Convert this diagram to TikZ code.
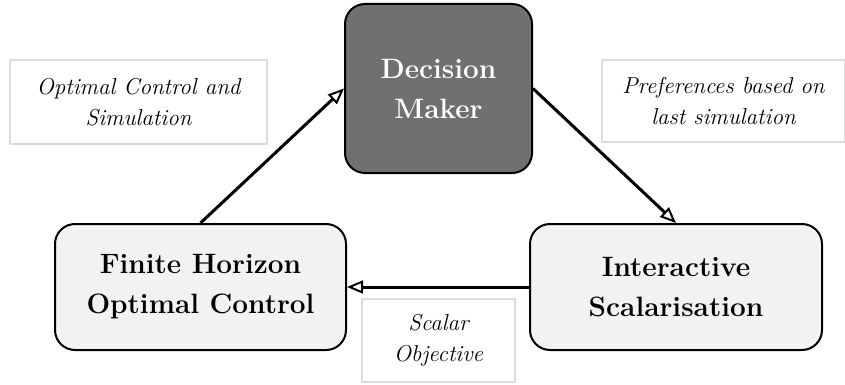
\documentclass[tikz,border=0pt]{standalone}
\usetikzlibrary{arrows.meta}
\definecolor{boxgray}{HTML}{F2F2F2}
\definecolor{dmgray}{HTML}{707070}
\definecolor{notegray}{HTML}{DCDCDC}
\tikzset{
  block/.style={draw=black, line width=2pt, rounded corners=20pt, fill=boxgray,
    align=center, font=\fontsize{28}{40}\selectfont\bfseries, inner sep=0pt},
  note/.style={draw=notegray, line width=1.5pt, align=center,
    font=\fontsize{23}{31}\selectfont\itshape, inner sep=0pt},
  flow/.style={line width=3pt, -{Triangle[open, length=16pt, width=13pt, line width=2pt, fill=white]}}
}
\begin{document}
\begin{tikzpicture}[x=1pt, y=-1pt]
\useasboundingbox (0,0) rectangle (845,385);

\node (dm) at (438.5, 88.5) [block, fill=dmgray, text=white, minimum width=187pt, minimum height=169pt] {Decision\\Maker};
\node (fh) at (200.5, 287) [block, minimum width=291pt, minimum height=126pt] {Finite Horizon\\Optimal Control};
\node (is) at (676, 287) [block, minimum width=292pt, minimum height=126pt] {Interactive\\Scalarisation};

\node (ocs) at (138.5, 102) [note, minimum width=257pt, minimum height=84pt] {Optimal Control and\\Simulation};
\node (pls) at (723.5, 101) [note, minimum width=243pt, minimum height=82pt] {Preferences based on\\last simulation};
\node (so) at (438.5, 340.5) [note, minimum width=153pt, minimum height=83pt] {Scalar\\Objective};

\draw [flow] (fh.north) -- (dm.west);
\draw [flow] (dm.east) -- (is.north);
\draw [flow] (is.west) -- (fh.east);

\end{tikzpicture}
\end{document}
